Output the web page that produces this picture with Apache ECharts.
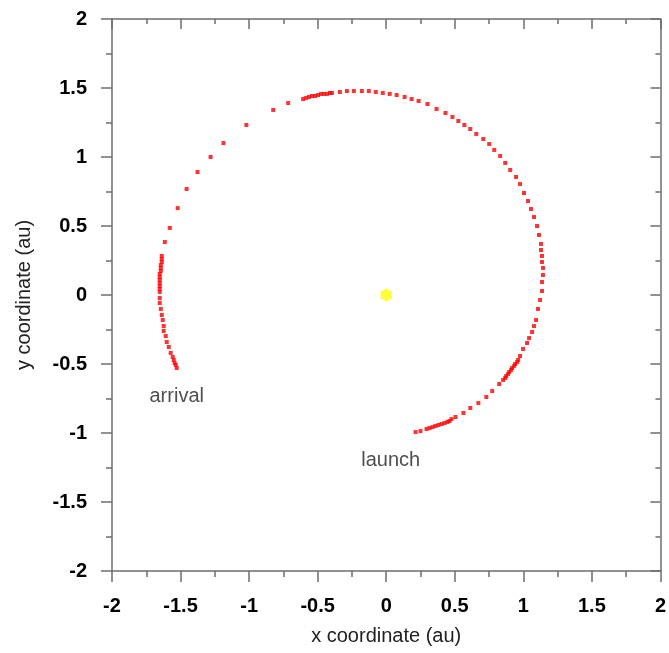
<!DOCTYPE html>
<html>
<head>
<meta charset="utf-8">
<title>Transfer trajectory</title>
<script src="https://cdn.jsdelivr.net/npm/echarts@6/dist/echarts.min.js"></script>
<style>
  html, body { margin: 0; padding: 0; background: #fff; }
  #chart { width: 669px; height: 653px; }
</style>
</head>
<body>
<div id="chart"></div>
<script>
// Spacecraft positions (au), launch -> arrival
const xAu = [
  0.214, 0.250, 0.294, 0.316, 0.338, 0.359, 0.381, 0.403, 0.425, 0.446,
  0.461, 0.476, 0.505, 0.563, 0.613, 0.672, 0.730, 0.773, 0.824, 0.853,
  0.868, 0.875, 0.889, 0.897, 0.911, 0.918, 0.933, 0.940, 0.955, 0.962,
  0.976, 0.998, 1.027, 1.042, 1.064, 1.078, 1.093, 1.107, 1.122, 1.136,
  1.136, 1.143, 1.143, 1.136, 1.136, 1.129, 1.129, 1.114, 1.100, 1.078,
  1.056, 1.034, 1.005, 0.976, 0.947, 0.904, 0.868, 0.831, 0.788, 0.751,
  0.708, 0.657, 0.613, 0.570, 0.526, 0.483, 0.432, 0.367, 0.301, 0.236,
  0.185, 0.134, 0.076, 0.025, -0.025, -0.076, -0.127, -0.178, -0.236, -0.287,
  -0.338, -0.396, -0.410, -0.432, -0.454, -0.475, -0.497, -0.519, -0.541, -0.563,
  -0.584, -0.606, -0.715, -0.824, -1.020, -1.187, -1.281, -1.376, -1.456, -1.521,
  -1.579, -1.615, -1.637, -1.637, -1.637, -1.644, -1.644, -1.644, -1.652, -1.652,
  -1.652, -1.652, -1.652, -1.652, -1.652, -1.652, -1.652, -1.644, -1.637, -1.630,
  -1.623, -1.623, -1.608, -1.601, -1.586, -1.572, -1.557, -1.550, -1.543, -1.535,
  -1.528
];
const yAu = [
  -0.993, -0.986, -0.971, -0.964, -0.957, -0.949, -0.942, -0.935, -0.928, -0.920,
  -0.913, -0.899, -0.884, -0.855, -0.819, -0.783, -0.739, -0.696, -0.645, -0.616,
  -0.601, -0.587, -0.572, -0.558, -0.543, -0.529, -0.514, -0.500, -0.486, -0.471,
  -0.442, -0.391, -0.348, -0.312, -0.268, -0.225, -0.181, -0.101, -0.036, 0.029,
  0.094, 0.145, 0.196, 0.239, 0.283, 0.326, 0.370, 0.435, 0.500, 0.565,
  0.623, 0.681, 0.739, 0.804, 0.855, 0.906, 0.957, 1.007, 1.051, 1.094,
  1.130, 1.167, 1.203, 1.232, 1.261, 1.290, 1.319, 1.348, 1.384, 1.406,
  1.420, 1.435, 1.449, 1.457, 1.464, 1.471, 1.478, 1.478, 1.478, 1.478,
  1.471, 1.464, 1.464, 1.457, 1.457, 1.457, 1.449, 1.442, 1.442, 1.435,
  1.428, 1.420, 1.391, 1.341, 1.232, 1.101, 1.000, 0.891, 0.768, 0.630,
  0.486, 0.384, 0.283, 0.261, 0.239, 0.217, 0.196, 0.174, 0.152, 0.130,
  0.109, 0.087, 0.065, 0.043, 0.022, -0.022, -0.058, -0.101, -0.145, -0.181,
  -0.225, -0.261, -0.297, -0.341, -0.377, -0.420, -0.449, -0.471, -0.493, -0.507,
  -0.529
];

// Sun at the origin
const sunX = [0];
const sunY = [0];

// Annotations
const noteText = ['arrival', 'launch'];
const noteX = [-1.528, 0.033];
const noteY = [-0.732, -1.196];

const FONT = 'Liberation Sans, Arial, Helvetica, sans-serif';
const LINE = { color: '#6e6e6e', width: 1.5 };
const axisRange = { min: -2, max: 2, interval: 0.5 };

const trajectory = xAu.map((x, i) => [x, yAu[i]]);
const sun = sunX.map((x, i) => [x, sunY[i]]);
const notes = noteText.map((t, i) => ({ name: t, value: [noteX[i], noteY[i]] }));

const sixStar = 'path://M50 0 L68.5 18 L93.3 25 L87 50 L93.3 75 L68.5 82 L50 100 L31.5 82 L6.7 75 L13 50 L6.7 25 L31.5 18 Z';

function mainAxis(pos, name, gap) {
  return Object.assign({
    type: 'value',
    position: pos,
    name: name,
    nameLocation: 'middle',
    nameGap: gap,
    nameTextStyle: { fontSize: 20, color: '#222', fontFamily: FONT },
    axisLine: { show: true, onZero: false, lineStyle: LINE },
    axisTick: { show: true, length: 11, lineStyle: LINE },
    minorTick: { show: true, splitNumber: 2, length: 6, lineStyle: LINE },
    splitLine: { show: false },
    minorSplitLine: { show: false },
    axisLabel: { fontSize: 20, fontWeight: 'bold', color: '#000', fontFamily: FONT, margin: 25 }
  }, axisRange);
}

function mirrorAxis(pos) {
  return Object.assign({
    type: 'value',
    position: pos,
    axisLine: { show: true, onZero: false, lineStyle: LINE },
    axisTick: { show: true, inside: true, length: 10, lineStyle: LINE },
    minorTick: { show: true, splitNumber: 2, length: 5, lineStyle: LINE },
    splitLine: { show: false },
    axisLabel: { show: false }
  }, axisRange);
}

const chart = echarts.init(document.getElementById('chart'), null, { renderer: 'canvas' });
chart.setOption({
  animation: false,
  backgroundColor: '#fff',
  grid: { left: 112, right: 5, top: 19, bottom: 82, containLabel: false },
  xAxis: [mainAxis('bottom', 'x coordinate (au)', 55), mirrorAxis('top')],
  yAxis: [mainAxis('left', 'y coordinate (au)', 78), mirrorAxis('right')],
  series: [
    {
      type: 'scatter',
      xAxisIndex: 0, yAxisIndex: 0,
      data: trajectory,
      symbol: 'rect',
      symbolSize: 4,
      itemStyle: { color: '#ff0000' }
    },
    {
      type: 'scatter',
      xAxisIndex: 0, yAxisIndex: 0,
      data: sun,
      symbol: sixStar,
      symbolSize: [12, 14],
      itemStyle: { color: '#ffff00' }
    },
    {
      type: 'scatter',
      xAxisIndex: 0, yAxisIndex: 0,
      data: notes,
      symbolSize: 0,
      label: {
        show: true,
        position: 'inside',
        formatter: p => p.name,
        fontSize: 20,
        color: '#222',
        fontFamily: FONT
      }
    }
  ]
});
</script>
</body>
</html>
